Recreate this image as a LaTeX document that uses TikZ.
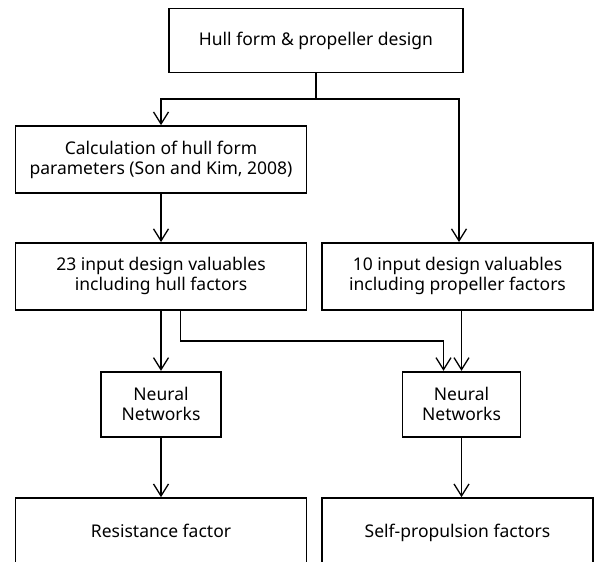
\documentclass[tikz,border=0pt]{standalone}
\usepackage{fontspec}
\setmainfont{Noto Sans}
\usepackage{tikz}
\usetikzlibrary{arrows.meta, positioning}

\tikzset{
	box/.style={draw, rectangle, line width=1.7pt, align=center, font=\fontsize{17.5}{20}\selectfont},
	endbox/.style={box, text height=13pt, text depth=4pt},
	arr/.style={line width=1.7pt, -{Straight Barb[length=12pt, width=15pt, line width=1.3pt]}}
}

\begin{document}
\begin{tikzpicture}[x=1pt, y=-1pt]

	\useasboundingbox (0,0) rectangle (595,562);

	% Nodes
    \node[box, minimum width=294pt, minimum height=64pt] (design) at (316, 40.6) {Hull form \& propeller design};
    \node[box, minimum width=291pt, minimum height=67pt] (calc) at (161, 159.5) {Calculation of hull form\\parameters (Son and Kim, 2008)};
    \node[box, minimum width=291pt, minimum height=67pt] (inHull) at (161, 276.4) {23 input design valuables\\including hull factors};
    \node[box, minimum width=271pt, minimum height=67pt] (inProp) at (457.5, 276.4) {10 input design valuables\\including propeller factors};
    \node[box, minimum width=120pt, minimum height=65pt] (nnHull) at (161, 404.2) {Neural\\Networks};
    \node[box, minimum width=118pt, minimum height=65pt] (nnProp) at (461.5, 404.2) {Neural\\Networks};
    \node[endbox, minimum width=291pt, minimum height=70pt] (resist) at (161, 533) {Resistance factor};
    \node[endbox, minimum width=271pt, minimum height=70pt] (selfprop) at (457.5, 533) {Self-propulsion factors};

    \coordinate (split) at (316, 99);
    \coordinate (jog) at (180.5, 341);

	% Arrows
    \draw[line width=1.7pt] (design) -- (split);
    \draw[arr] (split) -| (calc);
    \draw[arr] (split) -| ([xshift=1.5pt]inProp.north);
    \draw[arr] (calc) -- (inHull);
    \draw[arr] (inHull) -- (nnHull);
    \draw[arr] (inHull.south -| jog) -- (jog) -| ([xshift=-18pt]nnProp.north);
    \draw[arr] (inProp.south -| nnProp) -- (nnProp);
    \draw[arr] (nnHull) -- (resist);
    \draw[arr] (nnProp) -- (nnProp |- selfprop.north);

\end{tikzpicture}
\end{document}
